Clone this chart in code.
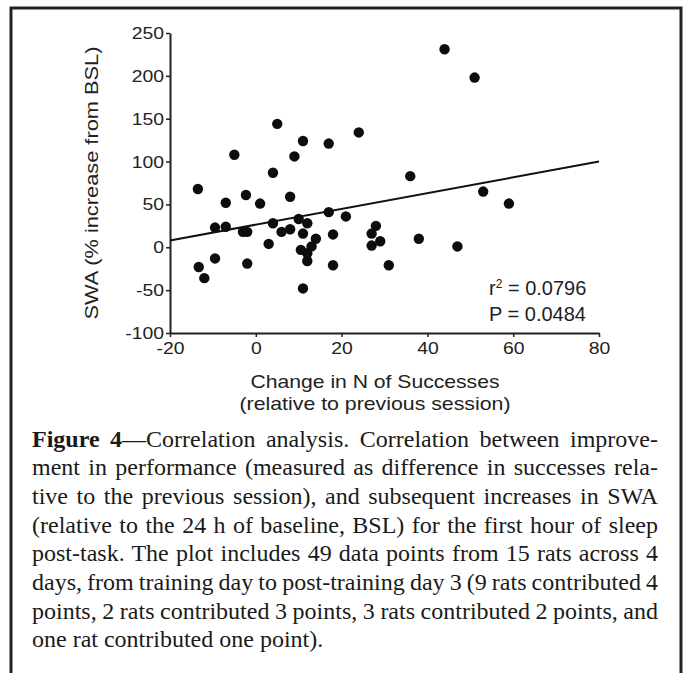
<!DOCTYPE html>
<html>
<head>
<meta charset="utf-8">
<script src="https://cdn.jsdelivr.net/npm/d3@7"></script>
<style>
  body { margin: 0; background: #fff; }
  svg { display: block; }
</style>
</head>
<body>
<div id="chart"></div>
<script>
// change in N of successes (x) vs SWA % increase from BSL (y)
const changeSuccesses = [
  -13.5, 5, 11, 17, 24, -5, 9, 4, -7, -2.3, 1, 8, 17, 21, -9.5, -7, -3, -2, 4, 6,
  8, 10, 12, 11, 14, 10.5, 12, 13, 12, 3, 18, 18, -2, -9.5, -13.3, -12, 11, 36, 53, 59,
  28, 27, 27, 29, 38, 47, 31, 44, 51
]
const swaIncrease = [
  68, 144, 124, 121, 134, 108, 106, 87, 52, 61, 51, 59, 41, 36, 23, 24, 18, 18, 28, 18,
  21, 33, 28, 16, 10, -3, -7, 1, -16, 4, 15, -21, -19, -13, -23, -36, -48, 83, 65, 51,
  25, 16, 2, 7, 10, 1, -21, 231, 198
]
// regression line ends
const fitX = [-20, 80]
const fitY = [8, 100]

const xTicks = [-20, 0, 20, 40, 60, 80]
const yTicks = [-100, -50, 0, 50, 100, 150, 200, 250]

const statLines = ['r', ' = 0.0796', 'P = 0.0484']

const captionBold = 'Figure 4'
const captionLines = [
  '\u2014Correlation analysis. Correlation between improve-',
  'ment in performance (measured as difference in successes rela-',
  'tive to the previous session), and subsequent increases in SWA',
  '(relative to the 24 h of baseline, BSL) for the first hour of sleep',
  'post-task. The plot includes 49 data points from 15 rats across 4',
  'days, from training day to post-training day 3 (9 rats contributed 4',
  'points, 2 rats contributed 3 points, 3 rats contributed 2 points, and',
  'one rat contributed one point).'
]

const W = 683
const H = 673
const sans = '"Liberation Sans", Arial, Helvetica, sans-serif'
const serif = '"Liberation Serif", "Times New Roman", serif'
const ink = '#222'

const svg = d3
  .select('#chart')
  .append('svg')
  .attr('width', W)
  .attr('height', H)

// open frame (no bottom edge in the crop)
svg
  .append('path')
  .attr('d', `M11,${H} V8 H681 V${H}`)
  .attr('fill', 'none')
  .attr('stroke', ink)
  .attr('stroke-width', 3)

const x = d3
  .scaleLinear()
  .domain([-20, 80])
  .range([170, 599])

const y = d3
  .scaleLinear()
  .domain([-100, 250])
  .range([333, 33])

const stretch = 1.14

const yAxis = svg
  .append('g')
  .attr('transform', `translate(${x(-20)},0)`)
  .call(
    d3
      .axisLeft(y)
      .tickValues(yTicks)
      .tickSize(4)
      .tickSizeOuter(0)
      .tickFormat(d => String(d))
  )

const xAxis = svg
  .append('g')
  .attr('transform', `translate(0,${y(-100)})`)
  .call(
    d3
      .axisBottom(x)
      .tickValues(xTicks)
      .tickSize(4)
      .tickSizeOuter(0)
      .tickFormat(d => String(d))
  )

for (const ax of [yAxis, xAxis]) {
  ax.select('.domain')
    .attr('stroke', ink)
    .attr('stroke-width', 2)
  ax.selectAll('.tick line')
    .attr('stroke', ink)
    .attr('stroke-width', 1.5)
  ax.selectAll('.tick text')
    .attr('fill', ink)
    .style('font-family', sans)
    .style('font-size', '17px')
}

yAxis
  .selectAll('.tick text')
  .attr('x', 0)
  .attr('transform', `translate(-6,0) scale(${stretch},1)`)

xAxis
  .selectAll('.tick text')
  .attr('y', 0)
  .attr('dy', '0')
  .attr('transform', `translate(0,21) scale(${stretch},1)`)

// axis titles
svg
  .append('text')
  .attr('transform', `translate(98,${(y(-100) + y(250)) / 2}) rotate(-90)`)
  .attr('text-anchor', 'middle')
  .attr('textLength', 273)
  .attr('lengthAdjust', 'spacingAndGlyphs')
  .style('font-family', sans)
  .style('font-size', '18.5px')
  .attr('fill', ink)
  .text('SWA (% increase from BSL)')

const xTitle = svg
  .append('text')
  .attr('text-anchor', 'middle')
  .style('font-family', sans)
  .style('font-size', '18.5px')
  .attr('fill', ink)

xTitle
  .append('tspan')
  .attr('x', 375)
  .attr('y', 388)
  .attr('textLength', 249)
  .attr('lengthAdjust', 'spacingAndGlyphs')
  .text('Change in N of Successes')

xTitle
  .append('tspan')
  .attr('x', 375)
  .attr('y', 410)
  .attr('textLength', 271)
  .attr('lengthAdjust', 'spacingAndGlyphs')
  .text('(relative to previous session)')

// regression line
svg
  .append('line')
  .attr('x1', x(fitX[0]))
  .attr('y1', y(fitY[0]))
  .attr('x2', x(fitX[1]))
  .attr('y2', y(fitY[1]))
  .attr('stroke', '#111')
  .attr('stroke-width', 2)

// points
svg
  .selectAll('.pt')
  .data(changeSuccesses.map((d, i) => [d, swaIncrease[i]]))
  .enter()
  .append('circle')
  .attr('class', 'pt')
  .attr('cx', d => x(d[0]))
  .attr('cy', d => y(d[1]))
  .attr('r', 5.2)
  .attr('fill', '#0d0d0d')

// stats
const stats = svg
  .append('g')
  .style('font-family', sans)
  .style('font-size', '20px')
  .attr('fill', ink)

const r2 = stats
  .append('text')
  .attr('x', 489)
  .attr('y', 295)
r2.append('tspan').text(statLines[0])
r2.append('tspan')
  .attr('dy', -7)
  .style('font-size', '12px')
  .text('2')
r2.append('tspan')
  .attr('dy', 7)
  .text(statLines[1])

stats
  .append('text')
  .attr('x', 489)
  .attr('y', 321)
  .text(statLines[2])

// caption, justified line by line
const capLeft = 32
const capRight = 658
const capTop = 446.5
const lineGap = 28.7

const caption = svg
  .append('g')
  .style('font-family', serif)
  .style('font-size', '24px')
  .attr('fill', '#1a1a1a')

captionLines.forEach((line, i) => {
  const t = caption
    .append('text')
    .attr('x', capLeft)
    .attr('y', capTop + i * lineGap)
  if (i === 0) {
    t.append('tspan')
      .style('font-weight', 'bold')
      .text(captionBold)
  }
  t.append('tspan').text(line)
  if (i < captionLines.length - 1) {
    const full = (i === 0 ? captionBold : '') + line
    const gaps = full.split(' ').length - 1
    const len = t.node().getComputedTextLength()
    t.attr('word-spacing', (capRight - capLeft - len) / gaps)
  }
})
</script>
</body>
</html>
